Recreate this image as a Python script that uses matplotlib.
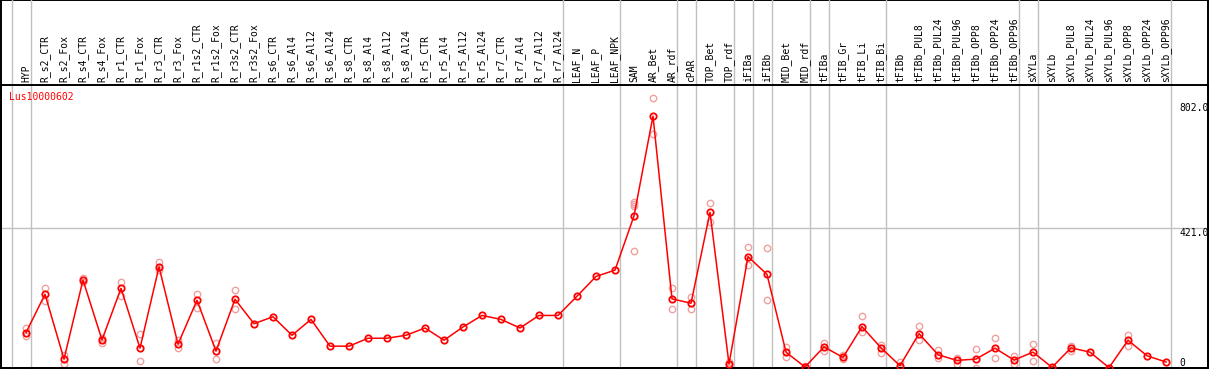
import matplotlib
matplotlib.use("Agg")
import matplotlib.pyplot as plt

categories = ["HYP", "R_s2_CTR", "R_s2_Fox", "R_s4_CTR", "R_s4_Fox", "R_r1_CTR", "R_r1_Fox",
              "R_r3_CTR", "R_r3_Fox", "R_r1s2_CTR", "R_r1s2_Fox", "R_r3s2_CTR", "R_r3s2_Fox",
              "R_s6_CTR", "R_s6_Al4", "R_s6_Al12", "R_s6_Al24", "R_s8_CTR", "R_s8_Al4",
              "R_s8_Al12", "R_s8_Al24", "R_r5_CTR", "R_r5_Al4", "R_r5_Al12", "R_r5_Al24",
              "R_r7_CTR", "R_r7_Al4", "R_r7_Al12", "R_r7_Al24", "LEAF_N", "LEAF_P", "LEAF_NPK",
              "SAM", "AR_Bet", "AR_rdf", "cPAR", "TOP_Bet", "TOP_rdf", "iFIBa", "iFIBb",
              "MID_Bet", "MID_rdf", "tFIBa", "tFIB_Gr", "tFIB_Li", "tFIB_Bi", "tFIBb",
              "tFIBb_PUL8", "tFIBb_PUL24", "tFIBb_PUL96", "tFIBb_OPP8", "tFIBb_OPP24",
              "tFIBb_OPP96", "sXYLa", "sXYLb", "sXYLb_PUL8", "sXYLb_PUL24", "sXYLb_PUL96",
              "sXYLb_OPP8", "sXYLb_OPP24", "sXYLb_OPP96"]

means = [106, 222, 26, 265, 84, 240, 59, 305, 71, 204, 50, 207, 133,
         154, 98, 146, 65, 65, 89, 89, 98, 120, 83, 123, 158, 146, 120, 158, 158,
         216, 276, 295,
         459, 761, 208, 195, 470, 11, 336, 282, 47, 2,
         63, 31, 124, 60, 6, 103, 39, 22, 26, 59, 23,
         47, 1, 60, 47, 0, 83, 36, 17]

replicates = [[121, 97], [240, 203], [38, 11], [272, 260], [91, 76], [258, 217], [101, 19],
              [319, 295], [84, 59], [223, 181], [74, 25], [234, 177], [],
              [], [], [], [], [], [], [], [], [], [], [], [], [], [], [], [],
              [], [], [],
              [502, 494, 489, 352], [816, 707], [240, 177], [213, 177], [497, 440], [16, 5],
              [364, 311], [361, 205], [62, 33], [4, 0],
              [74, 51], [37, 25], [155, 109], [69, 45], [18, 0], [126, 83], [54, 28],
              [30, 10], [57, 0], [90, 30], [36, 10],
              [72, 19], [], [67, 50], [], [], [100, 67], [], []]

group_breaks = [-1, 0, 28, 31, 34, 35, 37, 38, 39, 41, 42, 45, 52, 53, 60]
axis_values = [802.0, 421.0, 0]
axis_texts = ["802.0", "421.0", "0"]
gene = "Lus10000602"

W, H = 1209, 370
fig = plt.figure(figsize=(W / 100, H / 100), dpi=100)
fig.patch.set_facecolor("white")

top_px, bot_px, left_px, right_px = 85, 368, 1, 1208
ax = fig.add_axes([left_px / W, (H - bot_px) / H, (right_px - left_px) / W, (bot_px - top_px) / H])

x0_px, dx_px = 26, 19
ax.set_xlim((left_px - x0_px) / dx_px, (right_px - x0_px) / dx_px)
ax.set_ylim(-1, 855)

mono = "DejaVu Sans Mono"
red = "#ff0000"
light = "#f0a0a0"
grey = "#c0c0c0"

# frame extension above axes (label region)
frame = fig.add_axes([left_px / W, (H - bot_px) / H, (right_px - left_px) / W, bot_px / H], zorder=-1)
frame.set_xticks([]); frame.set_yticks([])
for s in frame.spines.values():
    s.set_linewidth(1.4); s.set_color("black")
frame.patch.set_alpha(0)

for s in ax.spines.values():
    s.set_linewidth(1.4); s.set_color("black")
ax.patch.set_alpha(0)

# group separators
ext = bot_px / (bot_px - top_px)
for b in group_breaks:
    ax.axvline(b + 0.25, ymin=0, ymax=ext, color=grey, lw=1.0, clip_on=False, zorder=0)

ax.axhline(421.0, color=grey, lw=1.0, zorder=0)

# replicates
for i, reps in enumerate(replicates):
    if reps:
        ax.plot([i] * len(reps), reps, linestyle="none", marker="o", ms=4.6,
                mfc="none", mec=light, mew=1.0, zorder=2)

xs = list(range(len(categories)))
ax.plot(xs, means, color=red, lw=1.1, zorder=3)
ax.plot(xs, means, linestyle="none", marker="o", ms=4.6, mfc="none", mec=red, mew=1.3, zorder=4)

ax.xaxis.tick_top()
ax.set_xticks(xs)
ax.set_xticklabels(categories, rotation=90, fontsize=7, family=mono)
ax.tick_params(axis="x", length=0, pad=2.2)
ax.set_yticks([])

for v, t in zip(axis_values, axis_texts):
    ax.text((1179 - left_px) / (right_px - left_px), v, t, transform=ax.get_yaxis_transform(),
            ha="left", va="bottom" if v == 0 else "top", fontsize=7, family=mono, color="black")

ax.text((9 - left_px) / (right_px - left_px), (bot_px - 97) / (bot_px - top_px), gene,
        transform=ax.transAxes, ha="left", va="center", fontsize=7, family=mono, color=red)

fig.savefig("out.png", dpi=100)
